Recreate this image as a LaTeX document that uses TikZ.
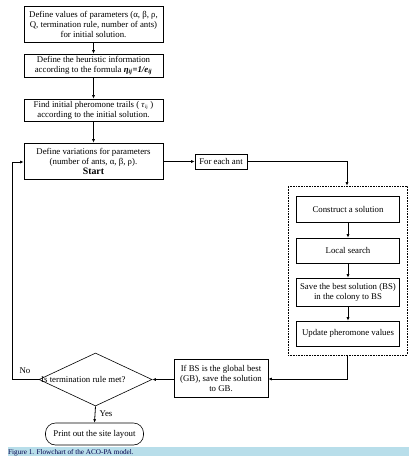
\documentclass[tikz,border=0pt]{standalone}
\usepackage{fontspec}
\setmainfont{Liberation Serif}
\usetikzlibrary{shapes.geometric,arrows.meta}
\definecolor{capblue}{RGB}{184,222,234}
\begin{document}
\begin{tikzpicture}[x=1pt,y=-1pt,
  box/.style={draw,line width=0.6pt,inner sep=0pt,align=center,font=\fontsize{8.8}{10}\selectfont},
  lbl/.style={font=\fontsize{8.8}{10}\selectfont},
  arr/.style={line width=0.8pt,-{Latex[length=3.5pt,width=3pt]}},
  ln/.style={line width=0.8pt}]
\useasboundingbox (0,0) rectangle (412,456);
\clip (0,0) rectangle (412,456);
% left column
\node[box,minimum width=139pt,minimum height=36pt] (b1) at (93.5,24)
  {Define values of parameters (α, β, ρ,\\Q, termination rule, number of ants)\\for initial solution.};
\node[box,minimum width=139pt,minimum height=23pt] (b2) at (93.5,65.5)
  {Define the heuristic information\\according to the formula \textbf{\textit{η\textsubscript{ij}}=\textit{1/e\textsubscript{ij}}}};
\node[box,minimum width=139pt,minimum height=22pt] (b3) at (93.5,110)
  {Find initial pheromone trails ( \textit{τ}\textsubscript{\tiny ij} )\\according to the initial solution.};
\node[box,minimum width=139pt,minimum height=36pt] (b4) at (93.5,161)
  {Define variations for parameters\\(number of ants, α, β, ρ).\\{\fontsize{9.8}{10}\selectfont\textbf{Start}}};
\node[box,minimum width=52pt,minimum height=15pt] (ant) at (221,161.5) {For each ant};
% dotted group
\node[draw,densely dotted,line width=0.6pt,minimum width=119pt,minimum height=169pt,inner sep=0pt] (grp) at (347.5,270.5) {};
\node[box,minimum width=103pt,minimum height=26pt] (c1) at (348,209) {Construct a solution};
\node[box,minimum width=103pt,minimum height=25pt] (c2) at (348,250.5) {Local search};
\node[box,minimum width=103pt,minimum height=28pt] (c3) at (348,292) {Save the best solution (BS)\\in the colony to BS};
\node[box,minimum width=103pt,minimum height=25pt] (c4) at (348,333.5) {Update pheromone values};
\node[box,minimum width=94pt,minimum height=38pt] (gb) at (221,378)
  {If BS is the global best\\(GB), save the solution\\to GB.};
\node[draw,line width=0.6pt,diamond,aspect=2.13,minimum width=113pt,minimum height=53pt,inner sep=0pt] (dec) at (95.5,379.5) {};
\node[lbl,anchor=west,inner sep=0pt] (dect) at (41,379.5) {Is termination rule met?};
\node[box,rounded corners=10pt,minimum width=98pt,minimum height=22pt] (end) at (94.5,434) {Print out the site layout};
\coordinate (lp1) at (12,379.5);
\coordinate (lp2) at (12,162);
\coordinate (r1) at (347,161.5);
\coordinate (r2) at (347,379);
% connectors
\draw[arr] (b1) -- (b2);
\draw[arr] (b2) -- (b3);
\draw[arr] (b3) -- (b4);
\draw[arr] (b4.east |- ant.west) -- (ant.west);
\draw[arr] (ant.east) -- (r1) -- (grp.north -| r1);
\draw[arr] (c1) -- (c2);
\draw[arr] (c2) -- (c3);
\draw[arr] (c3) -- (c4);
\draw[arr] (grp.south -| r2) -- (r2) -- (gb.east |- r2);
\draw[arr] (gb.west |- dec.east) -- (dec.east);
\draw[arr] (dec.west) -- (lp1) -- (lp2) -- (b4.west |- lp2);
\draw[arr] (dec.south) -- (end.north);
\node[lbl] (no) at (25,370.5) {No};
\node[lbl,anchor=west] (yes) at (96,414) {Yes};
% caption band
\fill[capblue] (8,447) rectangle (409,460);
\node[anchor=base west,inner sep=0pt,font=\fontsize{7.2}{9}\selectfont,text=black!70!blue] (cap) at (8,454.2) {Figure 1. Flowchart of the ACO-PA model.};
\end{tikzpicture}
\end{document}
